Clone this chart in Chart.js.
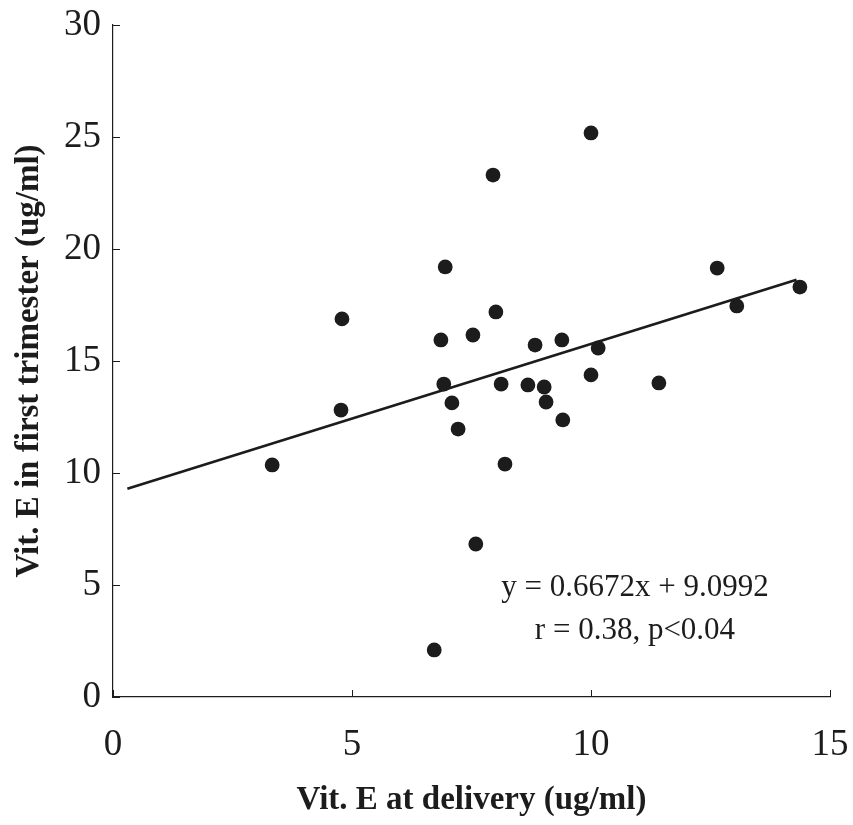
<!DOCTYPE html>
<html>
<head>
<meta charset="utf-8">
<script src="https://cdn.jsdelivr.net/npm/chart.js@4/dist/chart.umd.min.js"></script>
<style>
  html, body { margin: 0; padding: 0; background: #ffffff; }
  #wrap { width: 853px; height: 825px; position: relative; }
</style>
</head>
<body>
<div id="wrap"><canvas id="c" width="853" height="825"></canvas></div>
<script>
// Vit. E at delivery (x) and in first trimester (y)
const vitDelivery = [3.33, 4.77, 4.79, 6.72, 6.86, 6.92, 6.95, 7.09, 7.22, 7.53, 7.59, 7.95, 8.01, 8.12,
                     8.20, 8.68, 8.83, 9.02, 9.06, 9.39, 9.41, 10.0, 10.0, 10.15, 11.42, 12.64, 13.05, 14.37];
const vitFirst    = [10.36, 12.81, 16.88, 2.10, 15.94, 13.97, 19.20, 13.13, 11.96, 16.16, 6.83, 23.30, 17.19, 13.97,
                     10.40, 13.93, 15.71, 13.84, 13.17, 15.94, 12.37, 25.18, 14.38, 15.58, 14.02, 19.15, 17.46, 18.30];
// Fitted line end points
const fitX = [0.3, 14.3];
const fitY = [9.3, 18.63];
// Axis ticks
const xTicks = [0, 5, 10, 15];
const yTicks = [0, 5, 10, 15, 20, 25, 30];
const annotationLines = ["y = 0.6672x + 9.0992", "r = 0.38, p<0.04"];

const SERIF = "'Liberation Serif', 'Times New Roman', serif";
const INK = '#1c1c1c';

const innerTicks = {
  id: 'innerTicks',
  afterDraw(chart) {
    const ctx = chart.ctx;
    const xs = chart.scales.x, ys = chart.scales.y;
    const a = chart.chartArea;
    ctx.save();
    ctx.strokeStyle = INK;
    ctx.lineWidth = 1;
    ctx.beginPath();
    yTicks.forEach(v => {
      const py = Math.round(ys.getPixelForValue(v)) + 0.5;
      ctx.moveTo(a.left, py); ctx.lineTo(a.left + 7, py);
    });
    xTicks.forEach(v => {
      const px = Math.round(xs.getPixelForValue(v)) + 0.5;
      ctx.moveTo(px, a.bottom); ctx.lineTo(px, a.bottom - 7);
    });
    ctx.stroke();
    // annotation text
    ctx.fillStyle = INK;
    ctx.font = "31px " + SERIF;
    ctx.textAlign = 'center';
    ctx.textBaseline = 'middle';
    const cx = xs.getPixelForValue(10.92);
    ctx.fillText(annotationLines[0], cx, ys.getPixelForValue(4.88));
    ctx.fillText(annotationLines[1], cx, ys.getPixelForValue(2.95));
    ctx.restore();
  }
};

new Chart(document.getElementById('c'), {
  type: 'scatter',
  data: {
    datasets: [
      {
        type: 'line',
        data: fitX.map((x, i) => ({ x: x, y: fitY[i] })),
        borderColor: INK,
        borderWidth: 2.7,
        pointRadius: 0,
        fill: false,
        tension: 0,
        order: 2
      },
      {
        data: vitDelivery.map((x, i) => ({ x: x, y: vitFirst[i] })),
        backgroundColor: INK,
        borderColor: INK,
        borderWidth: 0,
        pointRadius: 7.4,
        pointHoverRadius: 7.4,
        order: 1
      }
    ]
  },
  plugins: [innerTicks],
  options: {
    responsive: false,
    animation: false,
    events: [],
    layout: { padding: { top: 25, right: 23, bottom: 0, left: 0 } },
    plugins: { legend: { display: false }, tooltip: { enabled: false } },
    scales: {
      x: {
        type: 'linear',
        min: 0, max: 15,
        afterFit: s => { s.height = 128; s.paddingLeft = 0; s.paddingRight = 0; },
        afterBuildTicks: s => { s.ticks = xTicks.map(v => ({ value: v })); },
        ticks: { color: INK, font: { family: SERIF, size: 37 }, padding: 26, maxRotation: 0 },
        grid: { drawOnChartArea: false, drawTicks: false },
        border: { display: true, color: INK, width: 1.2 },
        title: {
          display: true,
          text: 'Vit. E at delivery (ug/ml)',
          color: INK,
          font: { family: SERIF, size: 33, weight: 'bold' },
          padding: { top: 0, bottom: 5 }
        }
      },
      y: {
        type: 'linear',
        min: 0, max: 30,
        afterFit: s => { s.width = 113; s.paddingTop = 0; s.paddingBottom = 0; },
        afterBuildTicks: s => { s.ticks = yTicks.map(v => ({ value: v })); },
        ticks: { color: INK, font: { family: SERIF, size: 37 }, padding: 12 },
        grid: { drawOnChartArea: false, drawTicks: false },
        border: { display: true, color: INK, width: 1.2 },
        title: {
          display: true,
          text: 'Vit. E in first trimester (ug/ml)',
          color: INK,
          font: { family: SERIF, size: 33, weight: 'bold' },
          padding: { top: 10, bottom: 0 }
        }
      }
    }
  }
});
</script>
</body>
</html>
